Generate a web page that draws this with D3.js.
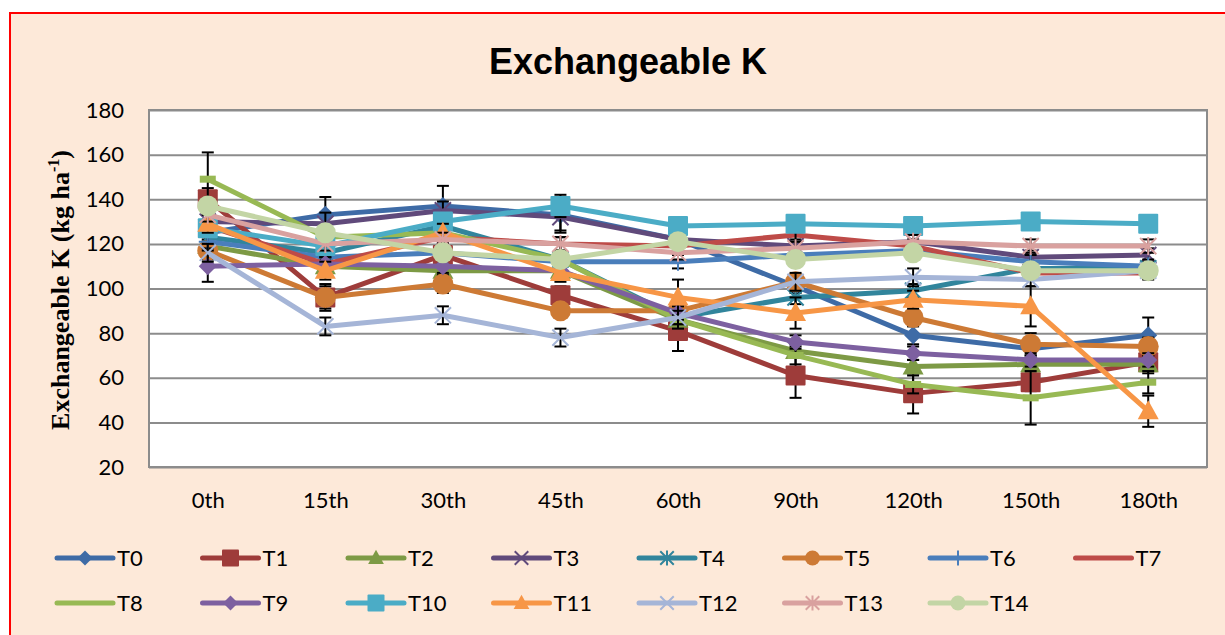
<!DOCTYPE html>
<html>
<head>
<meta charset="utf-8">
<script src="https://cdn.jsdelivr.net/npm/d3@7"></script>
<style>
  body { margin: 0; background: #fff; }
  svg { display: block; }
</style>
</head>
<body>
<script>
// sampling days
var days = ["0th", "15th", "30th", "45th", "60th", "90th", "120th", "150th", "180th"];
var yTicks = [20, 40, 60, 80, 100, 120, 140, 160, 180];

var names = ["T0", "T1", "T2", "T3", "T4", "T5", "T6", "T7", "T8", "T9", "T10", "T11", "T12", "T13", "T14"];

// Exchangeable K (kg/ha)
var T0  = [125, 133, 137, 133, 122, 101, 79, 73, 79];
var T1  = [140, 96, 115, 97, 81, 61, 53, 58, 67];
var T2  = [119, 110, 108, 108, 86, 72, 65, 66, 66];
var T3  = [130, 129, 135, 132, 122, 119, 121, 114, 115];
var T4  = [123, 116, 128, 113, 87, 96, 99, 109, 109];
var T5  = [117, 96, 102, 90, 90, 103, 87, 75, 74];
var T6  = [121, 114, 116, 112, 112, 115, 117, 112, 110];
var T7  = [128, 111, 123, 120, 119, 124, 119, 107, 107];
var T8  = [149, 123, 125, 113, 86, 70, 57, 51, 58];
var T9  = [110, 111, 110, 108, 89, 76, 71, 68, 68];
var T10 = [127, 119, 130, 137, 128, 129, 128, 130, 129];
var T11 = [129, 108, 125, 107, 96, 89, 95, 92, 45];
var T12 = [116, 83, 88, 78, 87, 103, 105, 104, 108];
var T13 = [133, 120, 122, 120, 116, 118, 121, 119, 119];
var T14 = [137, 125, 116, 113, 121, 113, 116, 108, 108];

// standard errors
var E0  = [4, 8, 9, 8, 4, 3, 4, 3, 8];
var E1  = [5, 6, 5, 4, 9, 10, 9, 4, 4];
var E2  = [3, 3, 3, 3, 3, 3, 3, 3, 4];
var E3  = [4, 5, 4, 6, 3, 3, 3, 3, 3];
var E4  = [3, 3, 3, 3, 3, 3, 3, 3, 3];
var E5  = [4, 5, 4, 3, 3, 3, 3, 5, 4];
var E6  = [3, 3, 3, 4, 3, 3, 3, 3, 3];
var E7  = [3, 3, 3, 3, 3, 3, 3, 3, 3];
var E8  = [12, 4, 4, 4, 4, 4, 4, 12, 5];
var E9  = [7, 3, 3, 3, 3, 3, 3, 3, 3];
var E10 = [3, 3, 3, 5, 3, 3, 3, 3, 3];
var E11 = [4, 4, 4, 4, 8, 7, 4, 9, 7];
var E12 = [4, 4, 4, 4, 3, 4, 4, 3, 3];
var E13 = [3, 3, 3, 3, 3, 3, 3, 3, 3];
var E14 = [3, 3, 3, 3, 3, 3, 3, 3, 3];

var colors = ["#3e6ba6", "#9e3c3a", "#7d9a45", "#604a7b", "#31859c", "#cd7a35", "#4a7ebb", "#be4b48",
              "#98b954", "#7d60a0", "#4bacc6", "#f79646", "#a5b5d7", "#d9a19f", "#c3d5a5"];
var markers = ["diamond", "square", "triangle", "x", "star", "circle", "plus", "none",
               "dash", "diamond", "square", "triangle", "x", "star", "circle"];

var values = [T0, T1, T2, T3, T4, T5, T6, T7, T8, T9, T10, T11, T12, T13, T14];
var errors = [E0, E1, E2, E3, E4, E5, E6, E7, E8, E9, E10, E11, E12, E13, E14];
var series = names.map(function(n, i) {
  return {name: n, color: colors[i], marker: markers[i],
          points: days.map(function(d, j) { return {day: d, v: values[i][j], e: errors[i][j]}; })};
});

var W = 1225, H = 635;
var plot = {left: 149, top: 110, right: 1207, bottom: 467};
var tickFont = "Lato, 'Open Sans', sans-serif";

var svg = d3.select("body").append("svg").attr("width", W).attr("height", H);

// chart area
svg.append("rect").attr("x", 10).attr("y", 13).attr("width", W + 10).attr("height", H + 10)
  .attr("fill", "#fde9d9").attr("stroke", "#ff0000").attr("stroke-width", 2);

svg.append("rect")
  .attr("x", plot.left).attr("y", plot.top)
  .attr("width", plot.right - plot.left).attr("height", plot.bottom - plot.top)
  .attr("fill", "#fff").attr("stroke", "#8c8c8c").attr("stroke-width", 2);

var x = d3.scalePoint().domain(days).range([plot.left, plot.right]).padding(0.5);
var y = d3.scaleLinear().domain([20, 180]).range([plot.bottom, plot.top]);

// gridlines
svg.append("g")
  .attr("transform", `translate(${plot.left},0)`)
  .call(d3.axisLeft(y).tickValues(yTicks).tickSize(-(plot.right - plot.left)).tickFormat(""))
  .call(g => g.select(".domain").remove())
  .selectAll("line").attr("stroke", "#8c8c8c").attr("stroke-width", 2);

// y axis labels
svg.append("g")
  .attr("transform", `translate(${plot.left},0)`)
  .call(d3.axisLeft(y).tickValues(yTicks).tickSize(0).tickPadding(25))
  .call(g => g.select(".domain").remove())
  .selectAll("text").attr("font-family", tickFont).attr("font-size", 22).attr("fill", "#000");

// x axis labels
svg.append("g")
  .attr("transform", `translate(0,${plot.bottom})`)
  .call(d3.axisBottom(x).tickSize(0).tickPadding(25))
  .call(g => g.select(".domain").remove())
  .selectAll("text").attr("font-family", tickFont).attr("font-size", 22).attr("fill", "#000");

// titles
svg.append("text")
  .attr("x", 628).attr("y", 74)
  .attr("text-anchor", "middle")
  .attr("font-family", "'Liberation Sans', Arial, sans-serif")
  .attr("font-weight", "bold").attr("font-size", 36)
  .text("Exchangeable K");

var yt = svg.append("text")
  .attr("transform", "translate(69,290) rotate(-90)")
  .attr("text-anchor", "middle")
  .attr("font-family", "'Liberation Serif', 'Times New Roman', serif")
  .attr("font-weight", "bold").attr("font-size", 26);
yt.append("tspan").text("Exchangeable K (kg ha");
yt.append("tspan").attr("font-size", 16).attr("dy", -10).text("-1");
yt.append("tspan").attr("dy", 10).text(")");

// marker drawing
function drawMarker(g, type, color, s) {
  if (type === "diamond") {
    g.append("path").attr("d", `M0,${-s}L${s},0L0,${s}L${-s},0Z`).attr("fill", color);
  } else if (type === "square") {
    g.append("rect").attr("x", -s).attr("y", -s).attr("width", 2 * s).attr("height", 2 * s)
      .attr("rx", 1).attr("fill", color);
  } else if (type === "triangle") {
    g.append("path").attr("d", `M0,${-s * 1.1}L${s * 1.05},${s * 0.8}L${-s * 1.05},${s * 0.8}Z`).attr("fill", color);
  } else if (type === "circle") {
    g.append("circle").attr("r", s).attr("fill", color);
  } else if (type === "dash") {
    g.append("rect").attr("x", -s).attr("y", -3.5).attr("width", 2 * s).attr("height", 7).attr("fill", color);
  } else if (type === "x" || type === "star" || type === "plus") {
    var d = "";
    var a = s * 0.9;
    if (type !== "plus") d += `M${-a},${-a}L${a},${a}M${-a},${a}L${a},${-a}`;
    if (type !== "x") d += `M0,${-s}L0,${s}`;
    if (type === "plus") d += `M${-s},0L${s},0`;
    g.append("path").attr("d", d).attr("stroke", color).attr("stroke-width", 2).attr("fill", "none");
  }
}

var markerSize = {diamond: 9, square: 10, triangle: 10, circle: 10.5, dash: 8, x: 9, star: 9, plus: 9};

var line = d3.line().x(d => x(d.day)).y(d => y(d.v));

series.forEach(function(s) {
  var g = svg.append("g");
  g.append("path")
    .attr("d", line(s.points))
    .attr("fill", "none")
    .attr("stroke", s.color)
    .attr("stroke-width", 5)
    .attr("stroke-linejoin", "round");

  // error bars
  var eb = g.selectAll(".eb").data(s.points).enter().append("g");
  eb.append("line")
    .attr("x1", d => x(d.day)).attr("x2", d => x(d.day))
    .attr("y1", d => y(d.v - d.e)).attr("y2", d => y(d.v + d.e))
    .attr("stroke", "#000").attr("stroke-width", 2);
  [-1, 1].forEach(function(sign) {
    eb.append("line")
      .attr("x1", d => x(d.day) - 6).attr("x2", d => x(d.day) + 6)
      .attr("y1", d => y(d.v + sign * d.e)).attr("y2", d => y(d.v + sign * d.e))
      .attr("stroke", "#000").attr("stroke-width", 2);
  });

  if (s.marker !== "none") {
    g.selectAll(".mk").data(s.points).enter().append("g")
      .attr("transform", d => `translate(${x(d.day)},${y(d.v)})`)
      .each(function() { drawMarker(d3.select(this), s.marker, s.color, markerSize[s.marker]); });
  }
});

// legend
var legend = svg.append("g");
series.forEach(function(s, i) {
  var col = i < 8 ? i : i - 8;
  var row = i < 8 ? 0 : 1;
  var lx = 57 + col * 145.5;
  var ly = 558 + row * 45;
  var item = legend.append("g").attr("transform", `translate(${lx},${ly})`);
  item.append("line").attr("x1", 0).attr("x2", 56).attr("y1", 0).attr("y2", 0)
    .attr("stroke", s.color).attr("stroke-width", 5).attr("stroke-linecap", "round");
  if (s.marker !== "dash" && s.marker !== "none") {
    var mg = item.append("g").attr("transform", "translate(28,0)");
    drawMarker(mg, s.marker, s.color, s.marker === "square" ? 8.5 : 7.5);
  }
  item.append("text").attr("x", 60).attr("y", 0).attr("dy", "0.35em")
    .attr("font-family", tickFont).attr("font-size", 22).attr("fill", "#000")
    .text(s.name);
});
</script>
</body>
</html>
